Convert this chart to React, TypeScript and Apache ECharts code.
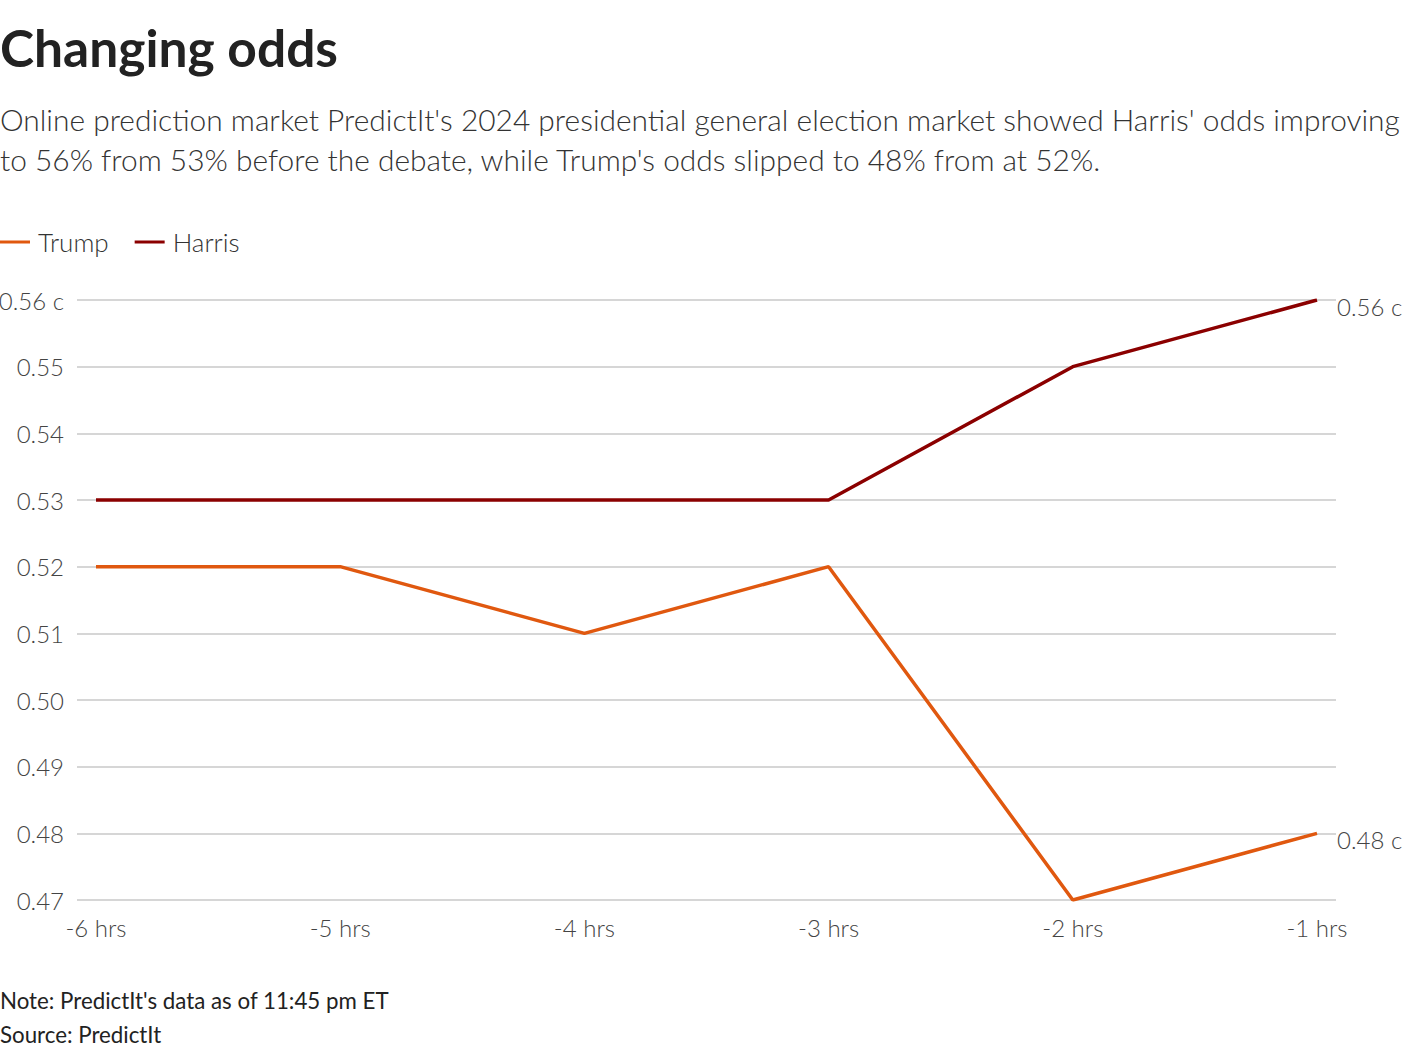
import React, { useEffect, useRef } from "react";
import * as echarts from "echarts";

const hours = [-6, -5, -4, -3, -2, -1];
const trump = [0.52, 0.52, 0.51, 0.52, 0.47, 0.48];
const harris = [0.53, 0.53, 0.53, 0.53, 0.55, 0.56];
const yMin = 0.47;
const yMax = 0.56;

const FONT = "Lato, 'Source Sans Pro', 'Noto Sans', sans-serif";

export default function App() {
  const ref = useRef<HTMLDivElement>(null);
  useEffect(() => {
    if (!ref.current) return;
    const chart = echarts.init(ref.current, undefined, { renderer: "svg" });
    const pad = 19 / 1221 * 5;
    chart.setOption({
      animation: false,
      backgroundColor: "#fff",
      textStyle: { fontFamily: FONT },
      title: [
        {
          text: "Changing odds",
          left: 0,
          top: 21,
          padding: 0,
          textStyle: { fontFamily: FONT, fontSize: 51.5, fontWeight: "bold", color: "#222" },
        },
        {
          text:
            "Online prediction market PredictIt's 2024 presidential general election market showed Harris' odds improving\nto 56% from 53% before the debate, while Trump's odds slipped to 48% from at 52%.",
          left: 0,
          top: 99,
          padding: 0,
          textStyle: { fontFamily: FONT, fontSize: 29.9, fontWeight: 300, color: "#333", lineHeight: 40 },
        },
        {
          text: "Note: PredictIt's data as of 11:45 pm ET\nSource: PredictIt",
          left: 0,
          top: 983,
          padding: 0,
          textStyle: { fontFamily: FONT, fontSize: 22.3, fontWeight: "normal", color: "#222", lineHeight: 34 },
        },
      ],
      legend: {
        left: 0,
        top: 229,
        padding: 0,
        icon: "rect",
        itemWidth: 30,
        itemHeight: 3,
        itemGap: 26,
        textStyle: { fontFamily: FONT, fontSize: 26, fontWeight: 300, color: "#333", padding: [0, 0, 0, 3] },
        data: ["Trump", "Harris"],
      },
      grid: { left: 77, right: 84, top: 300, bottom: 156, containLabel: false, outerBoundsMode: "none" },
      xAxis: {
        type: "value",
        min: hours[0] - pad,
        max: hours[hours.length - 1] + pad,
        splitLine: { show: false },
        axisLine: { show: false },
        axisTick: { show: false },
        axisLabel: {
          customValues: hours,
          formatter: (v: number) => `${Math.round(v)} hrs`,
          fontFamily: FONT,
          fontSize: 24,
          fontWeight: 300,
          color: "#444",
          margin: 15,
        },
      },
      yAxis: {
        type: "value",
        min: yMin,
        max: yMax,
        interval: 0.01,
        axisLine: { show: false },
        axisTick: { show: false },
        splitLine: { lineStyle: { color: "#c8c8c8", width: 1.5 } },
        axisLabel: {
          fontFamily: FONT,
          fontSize: 24,
          fontWeight: 300,
          color: "#444",
          margin: 13,
          formatter: (v: number) => {
            const s = v.toFixed(2);
            return Math.abs(v - yMax) < 1e-9 ? `${s} c` : s;
          },
        },
      },
      series: [
        {
          name: "Trump",
          type: "line",
          color: "#e0580f",
          symbol: "none",
          lineStyle: { width: 3.5, color: "#e0580f" },
          data: hours.map((h, i) => [h, trump[i]]),
          endLabel: {
            show: true,
            formatter: (p: any) => `${p.value[1].toFixed(2)} c`,
            distance: 20,
            offset: [0, 6],
            fontFamily: FONT,
            fontSize: 24,
            fontWeight: 300,
            color: "#444",
          },
        },
        {
          name: "Harris",
          type: "line",
          color: "#8b0000",
          symbol: "none",
          lineStyle: { width: 3.5, color: "#8b0000" },
          data: hours.map((h, i) => [h, harris[i]]),
          endLabel: {
            show: true,
            formatter: (p: any) => `${p.value[1].toFixed(2)} c`,
            distance: 20,
            offset: [0, 6],
            fontFamily: FONT,
            fontSize: 24,
            fontWeight: 300,
            color: "#444",
          },
        },
      ],
    });
    return () => chart.dispose();
  }, []);
  return (
    <div
      ref={ref}
      style={{ position: "fixed", left: 0, top: 0, width: 1420, height: 1056, background: "#fff" }}
    />
  );
}
